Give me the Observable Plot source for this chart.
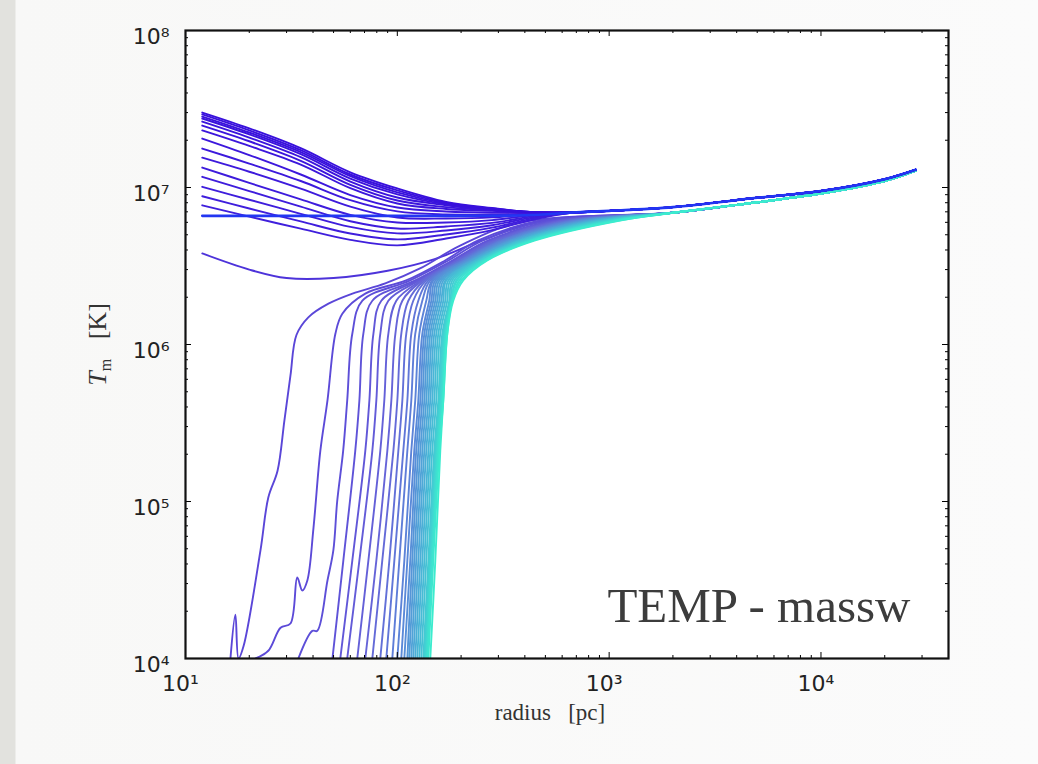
<!DOCTYPE html>
<html><head><meta charset="utf-8">
<script src="https://cdn.jsdelivr.net/npm/d3@7"></script>
<script src="https://cdn.jsdelivr.net/npm/@observablehq/plot@0.6"></script>
<style>
html,body{margin:0;padding:0;}
body{width:1038px;height:764px;overflow:hidden;background:linear-gradient(90deg,#e2e2de 0,#e2e2de 15px,#f8f8f7 16px,#fbfbfb 100%);}
</style></head><body><div id="chart"></div>
<script>
// ---- tick labels ----
const xTicks = [10, 100, 1000, 10000];
const xTickLabels = ["10¹", "10²", "10³", "10⁴"];
const yTicks = [1e4, 1e5, 1e6, 1e7, 1e8];
const yTickLabels = ["10⁴", "10⁵", "10⁶", "10⁷", "10⁸"];
const xAxisLabel = "radius\u00a0\u00a0\u00a0[pc]";
const yAxisLabel = "Tm [K]";
const panelLabel = "TEMP - massw";

// ---- upper family (hot centre), T at fixed radii ----
const upperR = [12, 20, 35, 60, 100, 170, 280, 450];
const upperT = [
  [3.0e7, 2.38e7, 1.78e7, 1.25e7, 9.86e6, 8.1e6, 7.4e6, 6.95e6],
  [2.92e7, 2.31e7, 1.73e7, 1.21e7, 9.58e6, 8.0e6, 7.35e6, 6.95e6],
  [2.83e7, 2.24e7, 1.68e7, 1.18e7, 9.30e6, 7.9e6, 7.3e6, 6.95e6],
  [2.75e7, 2.18e7, 1.63e7, 1.14e7, 9.03e6, 7.8e6, 7.25e6, 6.95e6],
  [2.63e7, 2.08e7, 1.56e7, 1.09e7, 8.63e6, 7.7e6, 7.2e6, 6.95e6],
  [2.48e7, 1.97e7, 1.48e7, 1.04e7, 8.26e6, 7.5e6, 7.15e6, 6.95e6],
  [2.31e7, 1.84e7, 1.40e7, 9.90e6, 7.91e6, 7.3e6, 7.1e6, 6.95e6],
  [2.05e7, 1.61e7, 1.21e7, 8.95e6, 7.46e6, 7.04e6, 6.9e6, 6.9e6],
  [1.77e7, 1.42e7, 1.10e7, 8.30e6, 7.04e6, 6.73e6, 6.7e6, 6.85e6],
  [1.55e7, 1.26e7, 9.83e6, 7.55e6, 6.44e6, 6.35e6, 6.45e6, 6.8e6],
  [1.34e7, 1.07e7, 8.40e6, 6.70e6, 5.99e6, 5.99e6, 6.2e6, 6.7e6],
  [1.17e7, 9.49e6, 7.55e6, 6.10e6, 5.48e6, 5.65e6, 5.95e6, 6.6e6],
  [1.01e7, 8.36e6, 6.80e6, 5.61e6, 5.10e6, 5.32e6, 5.75e6, 6.5e6],
  [8.8e6, 7.35e6, 6.08e6, 5.09e6, 4.67e6, 5.02e6, 5.55e6, 6.4e6],
  [7.7e6, 6.52e6, 5.47e6, 4.64e6, 4.28e6, 4.73e6, 5.35e6, 6.3e6]
];
const upperTail = [[700, 6.95e6], [1000, 7.1e6], [2000, 7.5e6], [5000, 8.6e6], [1e4, 9.5e6], [2e4, 1.13e7], [2.8e4, 1.3e7]];

// ---- flat initial profile ----
const flatLine = [[12, 6.6e6], [60, 6.6e6], [200, 6.6e6], [400, 6.65e6]];

// ---- dipping profile ----
const dipLine = [[12, 3.8e6], [20, 3.0e6], [30, 2.65e6], [50, 2.65e6], [90, 2.95e6], [150, 3.5e6], [250, 4.6e6], [450, 6.0e6]];

// ---- cooled profiles (noisy ones) ----
const cool1 = [[16.3, 1e4], [17.2, 1.9e4], [17.8, 1.0e4], [18.8, 1.2e4], [22.6, 4.9e4], [24.6, 1.06e5], [27.2, 1.57e5], [29.3, 3.28e5], [31.3, 6.35e5], [33.4, 1.15e6], [38, 1.49e6], [47.3, 1.82e6], [61.4, 2.11e6], [87.7, 2.45e6], [128, 3.05e6], [198, 4.27e6], [380, 5.98e6]];
const cool2 = [[21.4, 1e4], [24.6, 1.12e4], [28.1, 1.57e4], [31.3, 1.67e4], [33.7, 3.28e4], [35.6, 2.71e4], [37.6, 3.14e4], [40.2, 6.8e4], [43.3, 2.1e5], [46.8, 4.4e5], [51.0, 1.17e6], [55.0, 1.57e6], [70.6, 2.11e6], [110, 2.56e6], [168, 3.43e6], [241, 4.6e6], [473, 6.16e6]];
const cool3 = [[34.1, 1e4], [39.7, 1.5e4], [41.9, 1.5e4], [46.8, 3.14e4], [49.9, 4.9e4], [52, 1.0e5], [55.5, 2.1e5], [58, 4.4e5], [61.3, 1.17e6], [68.4, 1.9e6], [115, 2.56e6], [174, 3.43e6], [254, 4.6e6], [516, 6.16e6]];

// ---- cooled profiles (smooth ones): radius at fixed temperatures ----
const lowerT = [1e4, 4.2e4, 2.1e5, 4.4e5, 1.17e6, 1.9e6, 2.56e6, 3.43e6, 4.6e6, 6.16e6];
const lowerR = [
  [49.4, 55.6, 63.3, 66.2, 69.1, 76.2, 121.5, 181.7, 268.7, 556],
  [53.8, 61.3, 70.6, 73.8, 77.1, 84.0, 124.2, 183.7, 274.6, 575],
  [58.0, 66.2, 76.2, 79.6, 83.1, 90.7, 127.0, 187.7, 280.6, 588],
  [64.7, 73.0, 83.1, 86.8, 90.7, 98.9, 129.8, 189.7, 283.7, 607],
  [70.6, 79.6, 89.7, 93.7, 97.9, 105.6, 131.2, 191.8, 290.0, 620],
  [76.2, 84.9, 95.8, 100.0, 104.4, 112.7, 134.1, 196.0, 296.3, 641],
  [83.1, 91.7, 101.1, 105.6, 110.2, 118.9, 137.0, 198.2, 302.8, 655],
  [88.7, 96.8, 106.7, 111.5, 116.4, 125.6, 140.1, 200.4, 309.5, 677],
  [94.7, 102.2, 111.5, 116.4, 121.5, 131.2, 143.1, 204.7, 312.8, 692],
  [100.0, 107.9, 116.4, 121.5, 127.0, 137.0, 146.2, 207.0, 319.6, 715],
  [104.4, 111.5, 120.2, 125.6, 131.2, 141.5, 147.8, 209.3, 326.6, 730],
  [107.9, 115.1, 122.8, 128.4, 134.1, 144.7, 151.1, 213.9, 334.0, 754],
  [111.5, 117.6, 125.6, 131.2, 137.0, 147.8, 154.4, 216.2, 341.3, 771],
  [113.8, 120.2, 128.4, 134.1, 140.1, 151.1, 157.8, 220.9, 345.0, 796],
  [116.4, 122.8, 131.2, 137.0, 143.1, 154.4, 161.3, 223.3, 352.6, 814],
  [118.9, 125.6, 134.1, 140.1, 146.2, 157.8, 164.8, 225.8, 360.4, 841],
  [121.5, 128.4, 137.0, 143.1, 149.4, 161.3, 168.4, 230.6, 368.3, 860],
  [124.2, 131.2, 140.1, 146.2, 152.7, 164.8, 170.2, 233.3, 376.3, 888],
  [127.0, 134.1, 143.1, 149.4, 156.1, 168.4, 174.0, 235.7, 380.4, 907],
  [129.8, 137.0, 146.2, 152.7, 159.5, 172.1, 177.8, 241.0, 388.8, 937],
  [132.6, 140.1, 149.4, 156.1, 163.0, 175.9, 181.7, 243.6, 397.2, 958],
  [134.1, 141.5, 151.1, 157.8, 164.8, 177.8, 185.7, 246.3, 405.9, 989],
  [135.6, 143.1, 152.7, 159.5, 166.6, 179.8, 189.7, 251.7, 415.0, 1011],
  [137.0, 144.7, 154.4, 161.3, 168.4, 179.8, 191.8, 254.4, 424.1, 1044],
  [138.5, 146.2, 156.1, 163.0, 170.2, 181.7, 196.0, 257.2, 428.8, 1068],
  [140.1, 147.8, 157.8, 164.8, 172.1, 181.7, 200.4, 262.8, 438.1, 1103],
  [143.1, 151.1, 159.5, 164.8, 172.1, 183.7, 204.7, 265.7, 447.8, 1127]
];
const lowerTail = [[2000, 6.9e6], [4000, 7.75e6], [1e4, 9.15e6], [2e4, 1.1e7], [2.8e4, 1.28e7]];

// ---- assemble series (colour order: hottest -> coolest) ----
const series = [];
upperT.forEach((row, i) => series.push(upperR.map((r, k) => [r, row[k]]).concat(upperTail)));
series.push(dipLine.concat(lowerTail));
series.push(cool1.concat(lowerTail));
series.push(cool2.concat(lowerTail));
series.push(cool3.concat(lowerTail));
lowerR.forEach(rs => series.push(rs.map((r, k) => [r, lowerT[k]]).concat(lowerTail)));

const cmap = d3.scaleLinear()
  .domain([0, 0.28, 0.34, 0.5, 0.64, 0.8, 1])
  .range(["#3810dc", "#4020dc", "#5a46d8", "#6664d8", "#5a8ad8", "#48b6d6", "#3cecce"])
  .interpolate(d3.interpolateRgb);
const nU = upperT.length;
const nL = series.length - nU - 1;
function tOf(i) {
  if (i < nU) return i / nU * 0.28;
  if (i === nU) return 0.31;
  return 0.34 + (i - nU - 1) / (nL - 1) * 0.66;
}
// draw order: cooled profiles first (coolest on top among them), then hot ones on top
const order = [];
for (let i = nU; i < series.length; i++) order.push(i);
for (let i = nU - 1; i >= 0; i--) order.push(i);
const rows = [];
for (const i of order) {
  const c = cmap(tOf(i));
  for (const [r, T] of series[i]) rows.push({id: i, r, T, c});
}
const flatRows = flatLine.concat(upperTail).map(([r, T]) => ({r, T}));

// ---- minor ticks ----
const xMinor = [], yMinor = [];
for (const d of [10, 100, 1000, 10000]) for (let m = 2; m <= 9; m++) if (m * d < 4e4) xMinor.push(m * d);
for (const d of [1e4, 1e5, 1e6, 1e7]) for (let m = 2; m <= 9; m++) yMinor.push(m * d);

const W = 1038, Hh = 764, mL = 185, mR = 90, mT = 30, mB = 106;
const iw = W - mL - mR, ih = Hh - mT - mB;
const xLab = new Map(xTicks.map((d, i) => [d, xTickLabels[i]]));
const yLab = new Map(yTicks.map((d, i) => [d, yTickLabels[i]]));

const chart = Plot.plot({
  width: W, height: Hh,
  marginLeft: mL, marginRight: mR, marginTop: mT, marginBottom: mB,
  style: {background: "transparent", fontFamily: "DejaVu Sans", fontSize: "22px", overflow: "visible"},
  x: {type: "log", domain: [10, 4e4], axis: null},
  y: {type: "log", domain: [1e4, 1e8], axis: null},
  color: {type: "identity"},
  marks: [
    Plot.frame({fill: "white", stroke: "none"}),
    Plot.line(rows, {x: "r", y: "T", z: "id", stroke: "c", strokeWidth: 1.9, curve: "catmull-rom", clip: true}),
    Plot.line(flatRows, {x: "r", y: "T", stroke: "#2236f2", strokeWidth: 2.6, curve: "catmull-rom", clip: true}),
    Plot.ruleX(xTicks, {x: d => d, insetTop: ih - 6, stroke: "black"}),
    Plot.ruleX(xTicks, {x: d => d, insetBottom: ih - 6, stroke: "black"}),
    Plot.ruleX(xMinor, {x: d => d, insetTop: ih - 3, stroke: "black"}),
    Plot.ruleX(xMinor, {x: d => d, insetBottom: ih - 3, stroke: "black"}),
    Plot.ruleY(yTicks, {y: d => d, insetRight: iw - 6, stroke: "black"}),
    Plot.ruleY(yTicks, {y: d => d, insetLeft: iw - 6, stroke: "black"}),
    Plot.ruleY(yMinor, {y: d => d, insetRight: iw - 3, stroke: "black"}),
    Plot.ruleY(yMinor, {y: d => d, insetLeft: iw - 3, stroke: "black"}),
    Plot.frame({stroke: "#111", strokeWidth: 2.2}),
    Plot.axisX(xTicks, {anchor: "bottom", tickSize: 0, tickPadding: 17, tickFormat: d => xLab.get(d), fontSize: 22, fill: "#222", dx: -5, label: null}),
    Plot.axisY(yTicks, {anchor: "left", tickSize: 0, tickPadding: 16, tickFormat: d => yLab.get(d), fontSize: 22, fill: "#222", dy: 6, label: null}),
    Plot.text([xAxisLabel], {text: d => d, frameAnchor: "bottom", textAnchor: "middle", dx: -17, dy: 61, fontFamily: "Liberation Serif", fontSize: 23, fill: "#333"}),
    Plot.text([yAxisLabel], {text: d => d, frameAnchor: "left", textAnchor: "middle", dx: -88, rotate: -90, fontFamily: "Liberation Serif", fontSize: 26, fill: "#333"}),
    Plot.text([panelLabel], {text: d => d, frameAnchor: "bottom-right", textAnchor: "end", lineAnchor: "bottom", dx: -38, dy: -37, fontFamily: "Liberation Serif", fontSize: 49, fill: "#3c3c3c"})
  ]
});
document.getElementById("chart").appendChild(chart);

// italic T with subscript m on the y label
d3.select(chart).selectAll("text").filter(function () { return this.textContent === yAxisLabel; })
  .each(function () {
    const t = d3.select(this);
    t.text(null);
    t.append("tspan").attr("font-style", "italic").text("T");
    t.append("tspan").attr("font-size", "0.62em").attr("dy", "0.3em").text("m");
    t.append("tspan").attr("dy", "-0.19em").text("\u00a0\u00a0\u00a0[K]");
  });
</script></body></html>
